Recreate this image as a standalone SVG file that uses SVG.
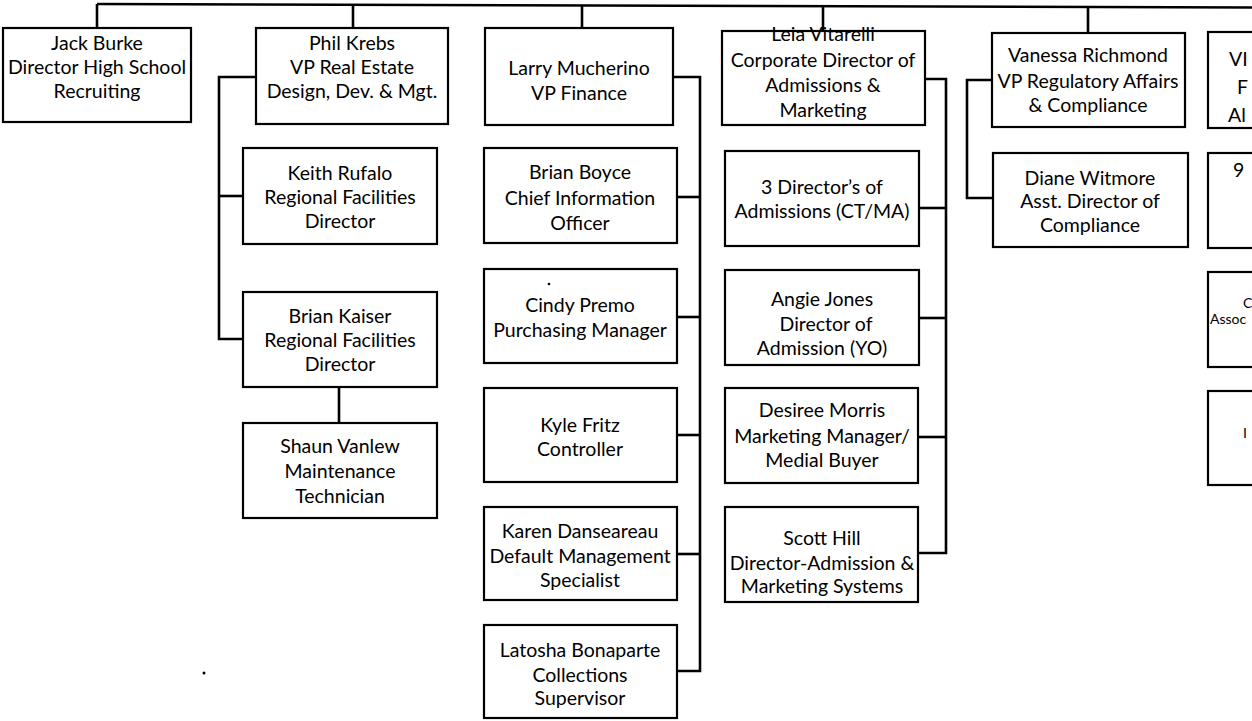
<svg xmlns="http://www.w3.org/2000/svg" width="1252" height="721" viewBox="0 0 1252 721">
<style>
  .box { fill: #ffffff; stroke: #000000; stroke-width: 2.2; }
  .t { font-family: Lato, "Open Sans", "Liberation Sans", sans-serif; font-size: 19.5px; fill: #000000; text-anchor: middle; }
  .ts { font-family: Lato, "Open Sans", "Liberation Sans", sans-serif; font-size: 19.5px; fill: #000000; }
  .small { font-family: Lato, "Open Sans", "Liberation Sans", sans-serif; font-size: 14px; fill: #000000; }
  .conn { fill: none; stroke: #000000; stroke-width: 2.6; }
</style>
<rect width="1252" height="721" fill="#ffffff"/>

<g id="connectors">
  <polyline class="conn" points="97,4 1252,7.5"/>
  <line class="conn" x1="97" y1="4" x2="97" y2="28"/>
  <line class="conn" x1="353" y1="5" x2="353" y2="28"/>
  <line class="conn" x1="582" y1="5.5" x2="582" y2="28"/>
  <line class="conn" x1="823" y1="6" x2="823" y2="31"/>
  <line class="conn" x1="1088" y1="7" x2="1088" y2="33"/>
  <!-- Phil Krebs -->
  <polyline class="conn" points="256,77 219,77 219,339 243,339"/>
  <line class="conn" x1="219" y1="196" x2="243" y2="196"/>
  <line class="conn" x1="339" y1="387" x2="339" y2="423"/>
  <!-- Larry Mucherino -->
  <polyline class="conn" points="673,77 700,77 700,671 677,671"/>
  <line class="conn" x1="677" y1="197" x2="700" y2="197"/>
  <line class="conn" x1="677" y1="317" x2="700" y2="317"/>
  <line class="conn" x1="677" y1="435" x2="700" y2="435"/>
  <line class="conn" x1="677" y1="554" x2="700" y2="554"/>
  <!-- Leia Vitarelli -->
  <polyline class="conn" points="925,79 946,79 946,553 919,553"/>
  <line class="conn" x1="919" y1="208" x2="946" y2="208"/>
  <line class="conn" x1="919" y1="318" x2="946" y2="318"/>
  <line class="conn" x1="919" y1="437" x2="946" y2="437"/>
  <!-- Vanessa Richmond -->
  <polyline class="conn" points="992,80 967,80 967,198 993,198"/>
</g>

<g id="jack-burke">
  <rect class="box" x="3" y="28" width="188" height="94"/>
  <text class="t" x="97" y="50">Jack Burke</text>
  <text class="t" x="97" y="74">Director High School</text>
  <text class="t" x="97" y="98">Recruiting</text>
</g>
<g id="phil-krebs">
  <rect class="box" x="256" y="28" width="192" height="96"/>
  <text class="t" x="352" y="50">Phil Krebs</text>
  <text class="t" x="352" y="74">VP Real Estate</text>
  <text class="t" x="352" y="98">Design, Dev. &amp; Mgt.</text>
</g>
<g id="keith-rufalo">
  <rect class="box" x="243" y="148" width="194" height="96"/>
  <text class="t" x="340" y="180">Keith Rufalo</text>
  <text class="t" x="340" y="204">Regional Facilities</text>
  <text class="t" x="340" y="228">Director</text>
</g>
<g id="brian-kaiser">
  <rect class="box" x="243" y="292" width="194" height="95"/>
  <text class="t" x="340" y="323">Brian Kaiser</text>
  <text class="t" x="340" y="347">Regional Facilities</text>
  <text class="t" x="340" y="371">Director</text>
</g>
<g id="shaun-vanlew">
  <rect class="box" x="243" y="423" width="194" height="95"/>
  <text class="t" x="340" y="453">Shaun Vanlew</text>
  <text class="t" x="340" y="478">Maintenance</text>
  <text class="t" x="340" y="503">Technician</text>
</g>
<g id="larry-mucherino">
  <rect class="box" x="485" y="28" width="188" height="97"/>
  <text class="t" x="579" y="75">Larry Mucherino</text>
  <text class="t" x="579" y="100">VP Finance</text>
</g>
<g id="brian-boyce">
  <rect class="box" x="484" y="148" width="193" height="95"/>
  <text class="t" x="580" y="179">Brian Boyce</text>
  <text class="t" x="580" y="205">Chief Information</text>
  <text class="t" x="580" y="230">Officer</text>
</g>
<g id="cindy-premo">
  <rect class="box" x="484" y="269" width="193" height="94"/>
  <circle cx="549" cy="284" r="1.3" fill="#000"/>
  <text class="t" x="580" y="312">Cindy Premo</text>
  <text class="t" x="580" y="337">Purchasing  Manager</text>
</g>
<g id="kyle-fritz">
  <rect class="box" x="484" y="388" width="193" height="94"/>
  <text class="t" x="580" y="432">Kyle Fritz</text>
  <text class="t" x="580" y="456">Controller</text>
</g>
<g id="karen-danseareau">
  <rect class="box" x="484" y="507" width="193" height="93"/>
  <text class="t" x="580" y="538">Karen Danseareau</text>
  <text class="t" x="580" y="563">Default Management</text>
  <text class="t" x="580" y="587">Specialist</text>
</g>
<g id="latosha-bonaparte">
  <rect class="box" x="484" y="625" width="193" height="93"/>
  <text class="t" x="580" y="657">Latosha Bonaparte</text>
  <text class="t" x="580" y="682">Collections</text>
  <text class="t" x="580" y="705">Supervisor</text>
</g>
<g id="leia-vitarelli">
  <rect class="box" x="722" y="31" width="203" height="94"/>
  <text class="t" x="823" y="41">Leia Vitarelli</text>
  <text class="t" x="823" y="67">Corporate Director of</text>
  <text class="t" x="823" y="92">Admissions &amp;</text>
  <text class="t" x="823" y="117">Marketing</text>
</g>
<g id="directors-admissions">
  <rect class="box" x="725" y="151" width="194" height="95"/>
  <text class="t" x="822" y="194">3 Director’s of</text>
  <text class="t" x="822" y="218">Admissions (CT/MA)</text>
</g>
<g id="angie-jones">
  <rect class="box" x="725" y="270" width="194" height="95"/>
  <text class="t" x="822" y="306">Angie Jones</text>
  <text class="t" x="826" y="331">Director of</text>
  <text class="t" x="822" y="355">Admission (YO)</text>
</g>
<g id="desiree-morris">
  <rect class="box" x="725" y="388" width="193" height="95"/>
  <text class="t" x="822" y="417">Desiree Morris</text>
  <text class="t" x="822" y="443">Marketing Manager/</text>
  <text class="t" x="822" y="467">Medial Buyer</text>
</g>
<g id="scott-hill">
  <rect class="box" x="725" y="507" width="193" height="95"/>
  <text class="t" x="822" y="545">Scott Hill</text>
  <text class="t" x="822" y="570">Director-Admission &amp;</text>
  <text class="t" x="822" y="593">Marketing Systems</text>
</g>
<g id="vanessa-richmond">
  <rect class="box" x="992" y="33" width="193" height="94"/>
  <text class="t" x="1088" y="62">Vanessa Richmond</text>
  <text class="t" x="1088" y="88">VP  Regulatory Affairs</text>
  <text class="t" x="1088" y="112">&amp; Compliance</text>
</g>
<g id="diane-witmore">
  <rect class="box" x="993" y="153" width="195" height="94"/>
  <text class="t" x="1090" y="185">Diane Witmore</text>
  <text class="t" x="1090" y="208">Asst. Director of</text>
  <text class="t" x="1090" y="232">Compliance</text>
</g>
<g id="right-vp">
  <rect class="box" x="1208" y="32" width="100" height="96"/>
  <text class="ts" x="1229" y="66">VI</text>
  <text class="ts" x="1237" y="94">F</text>
  <text class="ts" x="1228" y="122">Al</text>
</g>
<g id="right-box-2">
  <rect class="box" x="1208" y="153" width="100" height="95"/>
  <text class="ts" x="1233" y="177">9</text>
</g>
<g id="right-box-3">
  <rect class="box" x="1208" y="272" width="100" height="95"/>
  <text class="small" x="1243" y="308">C</text>
  <text class="small" x="1210" y="324">Assoc</text>
</g>
<g id="right-box-4">
  <rect class="box" x="1208" y="391" width="100" height="94"/>
  <text class="small" x="1243" y="438">I</text>
</g>
<circle cx="204" cy="673" r="1.5" fill="#000"/>
</svg>
